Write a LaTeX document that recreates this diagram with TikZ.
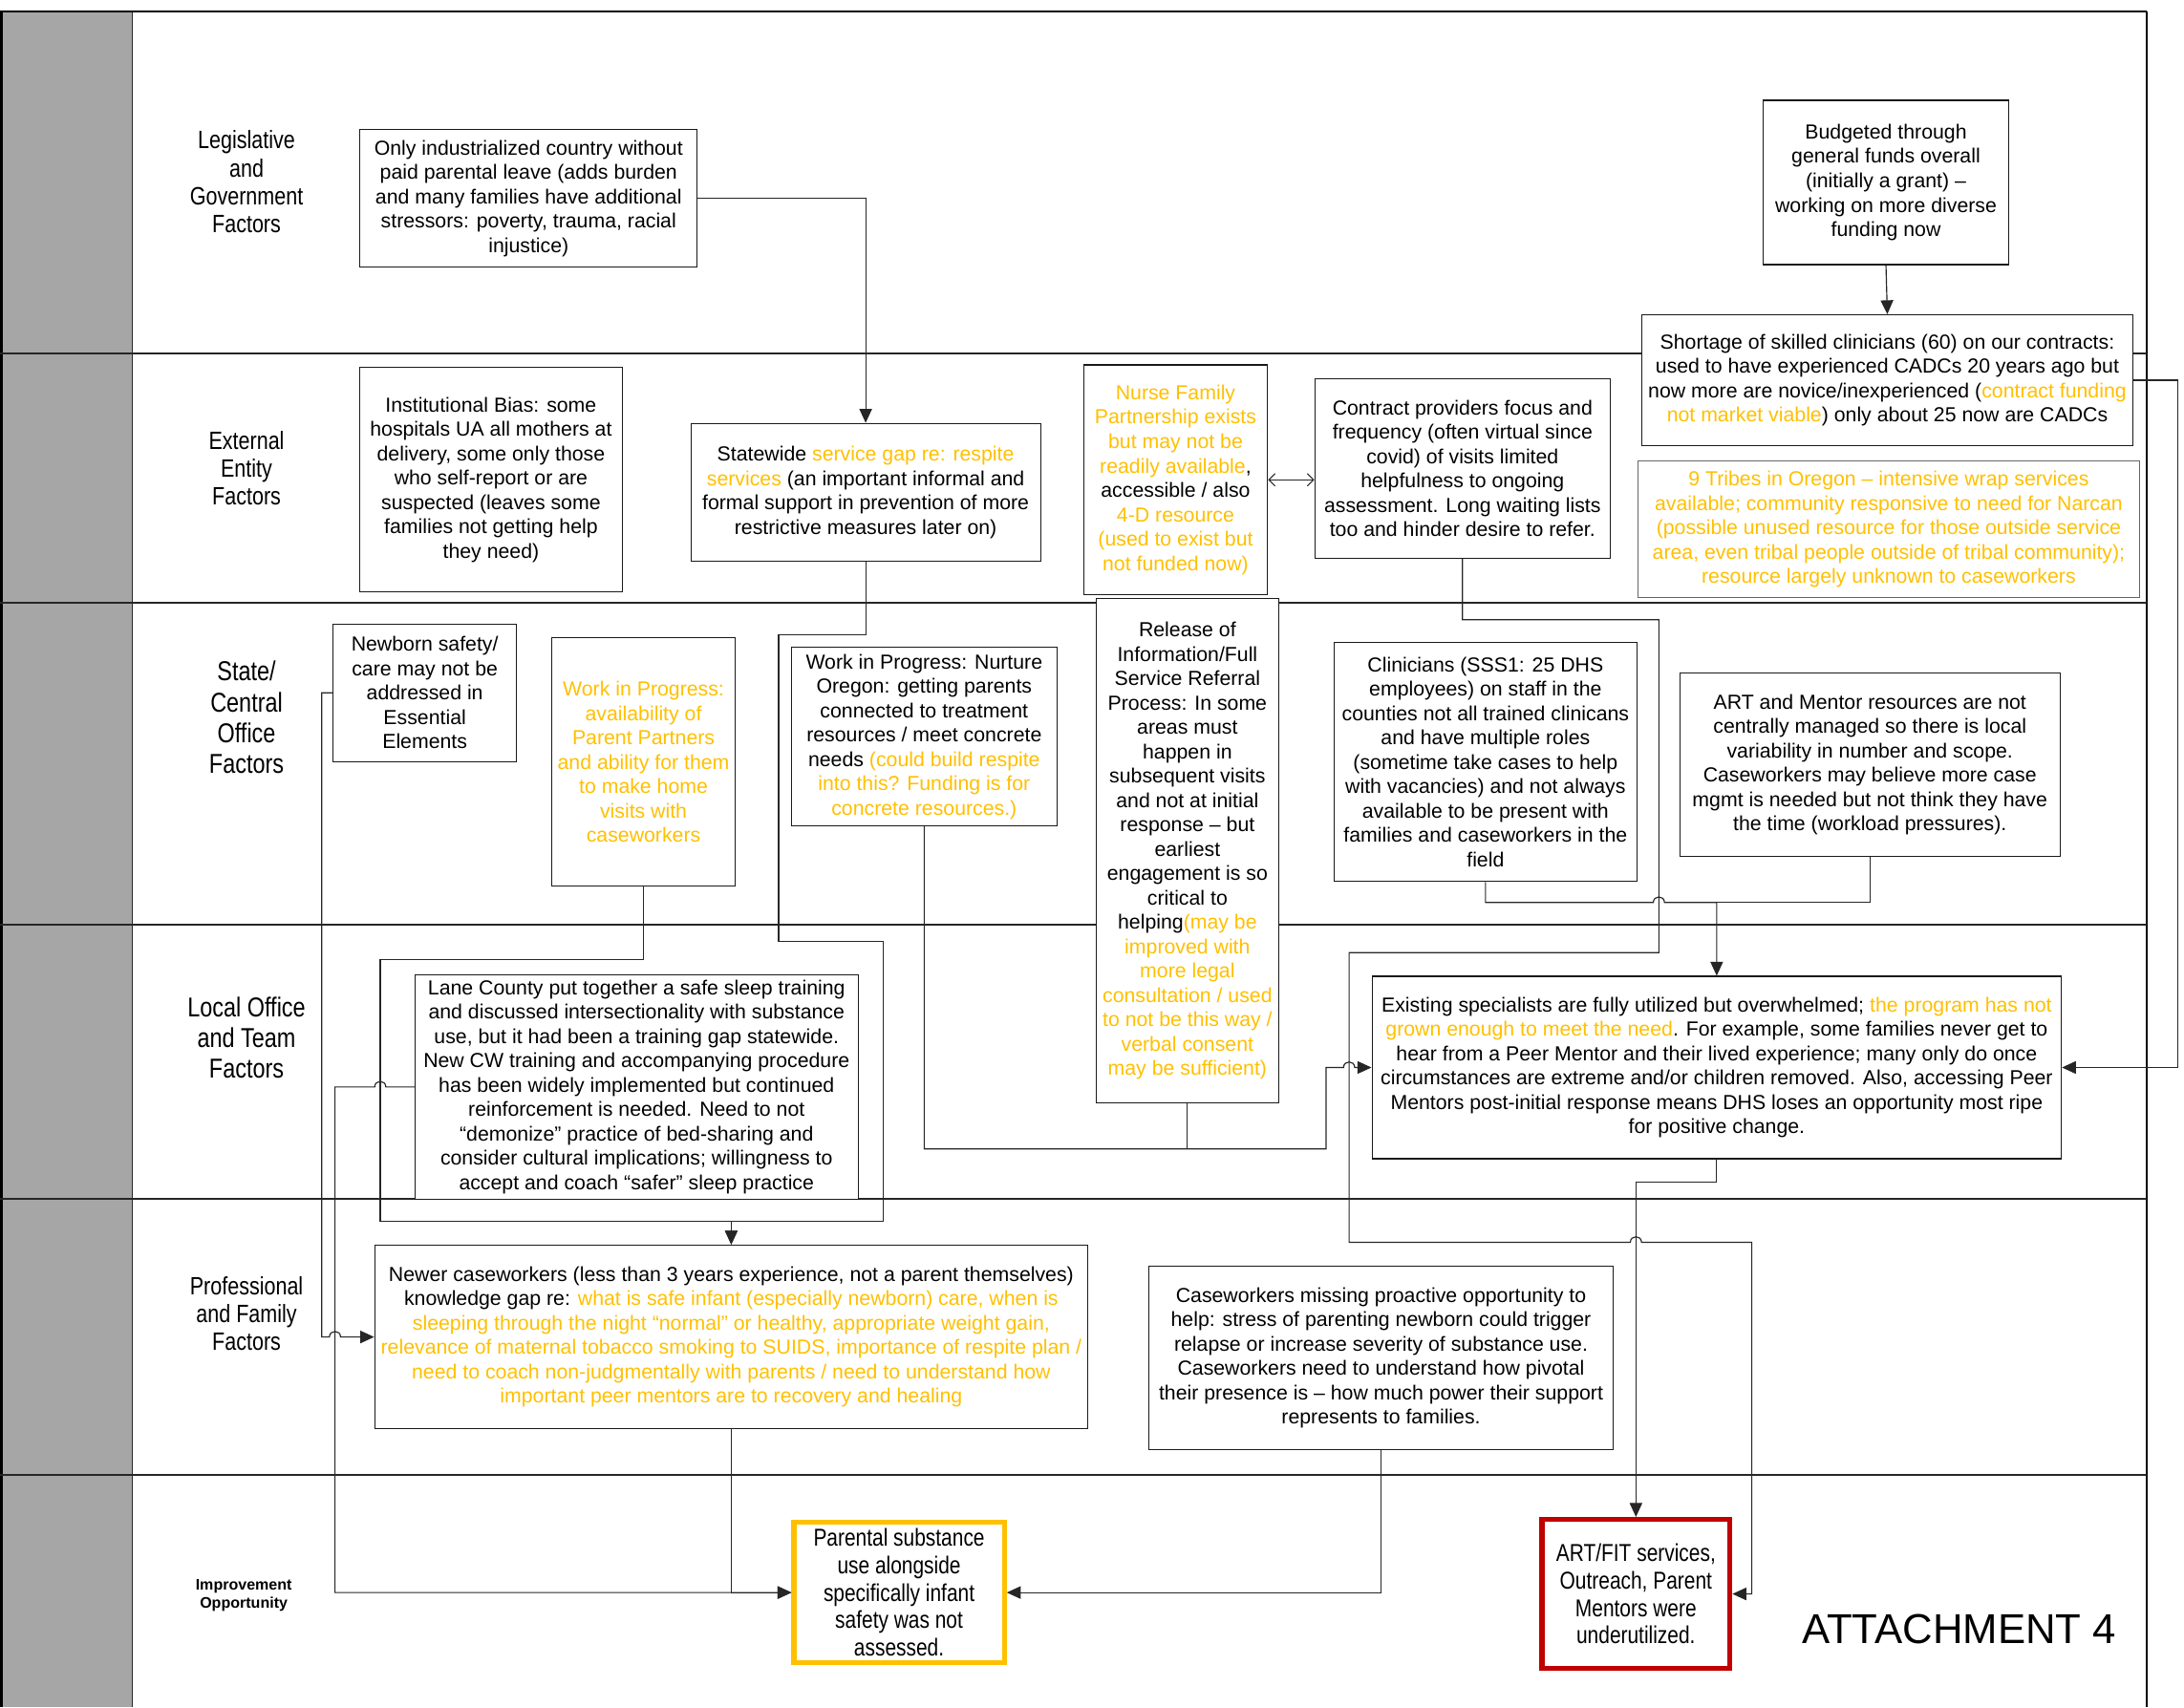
\documentclass[tikz,border=0pt]{standalone}
\usepackage{fontspec}
\setmainfont{Liberation Sans}
\newfontfamily\narrowsf{Liberation Sans}[FakeStretch=0.82]
\usetikzlibrary{arrows.meta}
\definecolor{gold}{HTML}{FFC000}
\definecolor{darkred}{HTML}{C00000}
\definecolor{sidegray}{HTML}{A6A6A6}
\newcommand{\yel}[1]{\textcolor{gold}{#1}}
\tikzset{
  box/.style={draw=black!90, line width=0.75pt, fill=white, inner sep=0pt, align=center,
    font=\fontsize{14.6}{17.5}\selectfont},
  outcome/.style={box, line width=3.6pt, font=\narrowsf\fontsize{17.5}{19.7}\selectfont},
  conn/.style={draw=black!85, line width=0.8pt},
  arr/.style={-{Triangle[length=10pt,width=9pt]}},
  open2/.style={{Straight Barb[length=4.5pt,width=9pt]}-{Straight Barb[length=4.5pt,width=9pt]}},
  laneline/.style={draw=black!85, line width=1.5pt},
  lanelabel/.style={align=center, font=\narrowsf\fontsize{18}{20}\selectfont},
  biglabel/.style={align=center, font=\narrowsf\fontsize{19.6}{22}\selectfont},
}
\begin{document}
\begin{tikzpicture}[x=1pt,y=-1pt]
\useasboundingbox (0,0) rectangle (1568,1226);

% side column and frame
\fill[sidegray] (0,8) rectangle (95,1226);
\draw[black!85, line width=1pt] (95,8) -- (95,1226);
\draw[black, line width=2.5pt] (1,8) -- (1,1226);
\draw[black, line width=1.5pt] (0,8) -- (1541,8);
\draw[black, line width=1.5pt] (1541,8) -- (1541,1226);
\foreach \yy in {254,433,664,861,1059}
  \draw[laneline] (0,\yy) -- (1541,\yy);

% lane titles
\node[lanelabel] (l1) at (177,130.5) {Legislative\\and\\Government\\Factors};
\node[lanelabel] (l2) at (177,336) {External\\Entity\\Factors};
\node[biglabel]  (l3) at (177,515) {State/\\Central\\Office\\Factors};
\node[biglabel]  (l4) at (177,745) {Local Office\\and Team\\Factors};
\node[lanelabel] (l5) at (177,943) {Professional\\and Family\\Factors};
\node[align=center, font=\bfseries\fontsize{11}{13}\selectfont] (l6) at (175,1145.5) {Improvement\\Opportunity};

% named junctions
\coordinate (jw) at (952,825);
\coordinate (je) at (1232.5,648);

% factor boxes
\node[box, minimum width=242, minimum height=99] (b1) at (379.5,142.5)
  {Only industrialized country without\\paid parental leave (adds burden\\and many families have additional\\stressors: poverty, trauma, racial\\injustice)};
\node[box, minimum width=176, minimum height=118] (budget) at (1354,131)
  {Budgeted through\\general funds overall\\(initially a grant) --\\working on more diverse\\funding now};
\node[box, minimum width=352, minimum height=94] (shortage) at (1355,273)
  {Shortage of skilled clinicians (60) on our contracts:\\used to have experienced CADCs 20 years ago but\\now more are novice/inexperienced (\yel{contract funding}\\\yel{not market viable}) only about 25 now are CADCs};
\node[box, draw=black!60, minimum width=360, minimum height=98] (tribes) at (1356,380)
  {\color{gold}9 Tribes in Oregon -- intensive wrap services\\\color{gold}available; community responsive to need for Narcan\\\color{gold}(possible unused resource for those outside service\\\color{gold}area, even tribal people outside of tribal community);\\\color{gold}resource largely unknown to caseworkers};
\node[box, minimum width=212, minimum height=129] (contract) at (1050,336.5)
  {Contract providers focus and\\frequency (often virtual since\\covid) of visits limited\\helpfulness to ongoing\\assessment. Long waiting lists\\too and hinder desire to refer.};
\node[box, minimum width=132, minimum height=165] (nurse) at (844,344.5)
  {\yel{Nurse Family}\\\yel{Partnership exists}\\\yel{but may not be}\\\yel{readily available},\\accessible / also\\\yel{4-D resource}\\\yel{(used to exist but}\\\yel{not funded now)}};
\node[box, minimum width=251, minimum height=99] (state) at (621.5,353.5)
  {Statewide \yel{service gap re: respite}\\\yel{services} (an important informal and\\formal support in prevention of more\\restrictive measures later on)};
\node[box, minimum width=189, minimum height=161] (inst) at (352.5,344.5)
  {Institutional Bias: some\\hospitals UA all mothers at\\delivery, some only those\\who self-report or are\\suspected (leaves some\\families not getting help\\they need)};
\node[box, minimum width=132, minimum height=99] (newborn) at (305,497.5)
  {Newborn safety/\\care may not be\\addressed in\\Essential\\Elements};
\node[box, minimum width=132, minimum height=178] (pp) at (462,547)
  {\yel{Work in Progress:}\\\yel{availability of}\\\yel{Parent Partners}\\\yel{and ability for them}\\\yel{to make home}\\\yel{visits with}\\\yel{caseworkers}};
\node[box, minimum width=191, minimum height=128] (nurture) at (663.5,529)
  {Work in Progress: Nurture\\Oregon: getting parents\\connected to treatment\\resources / meet concrete\\needs \yel{(could build respite}\\\yel{into this? Funding is for}\\\yel{concrete resources.)}};
\node[box, minimum width=131, minimum height=362] (release) at (852.5,611)
  {Release of\\Information/Full\\Service Referral\\Process: In some\\areas must\\happen in\\subsequent visits\\and not at initial\\response -- but\\earliest\\engagement is so\\critical to\\helping\yel{(may be}\\\yel{improved with}\\\yel{more legal}\\\yel{consultation / used}\\\yel{to not be this way /}\\\yel{verbal consent}\\\yel{may be sufficient)}};
\node[box, minimum width=217, minimum height=172] (clin) at (1066.5,547)
  {Clinicians (SSS1: 25 DHS\\employees) on staff in the\\counties not all trained clinicans\\and have multiple roles\\(sometime take cases to help\\with vacancies) and not always\\available to be present with\\families and caseworkers in the\\field};
\node[box, minimum width=273, minimum height=132] (artm) at (1342.5,549)
  {ART and Mentor resources are not\\centrally managed so there is local\\variability in number and scope.\\Caseworkers may believe more case\\mgmt is needed but not think they have\\the time (workload pressures).};
\node[box, minimum width=318, minimum height=161] (lane) at (457,780.5)
  {Lane County put together a safe sleep training\\and discussed intersectionality with substance\\use, but it had been a training gap statewide.\\New CW training and accompanying procedure\\has been widely implemented but continued\\reinforcement is needed. Need to not\\``demonize'' practice of bed-sharing and\\consider cultural implications; willingness to\\accept and coach ``safer'' sleep practice};
\node[box, minimum width=495, minimum height=131] (exist) at (1232.5,766.5)
  {Existing specialists are fully utilized but overwhelmed; \yel{the program has not}\\\yel{grown enough to meet the need}. For example, some families never get to\\hear from a Peer Mentor and their lived experience; many only do once\\circumstances are extreme and/or children removed. Also, accessing Peer\\Mentors post-initial response means DHS loses an opportunity most ripe\\for positive change.};
\node[box, minimum width=512, minimum height=132] (newer) at (525,960)
  {Newer caseworkers (less than 3 years experience, not a parent themselves)\\knowledge gap re: \yel{what is safe infant (especially newborn) care, when is}\\\yel{sleeping through the night ``normal'' or healthy, appropriate weight gain,}\\\yel{relevance of maternal tobacco smoking to SUIDS, importance of respite plan /}\\\yel{need to coach non-judgmentally with parents / need to understand how}\\\yel{important peer mentors are to recovery and healing}};
\node[box, minimum width=333, minimum height=132] (missing) at (991.5,975)
  {Caseworkers missing proactive opportunity to\\help: stress of parenting newborn could trigger\\relapse or increase severity of substance use.\\Caseworkers need to understand how pivotal\\their presence is -- how much power their support\\represents to families.};

% improvement opportunities
\node[outcome, draw=gold, minimum width=151, minimum height=101] (parental) at (645.5,1143.5)
  {Parental substance\\use alongside\\specifically infant\\safety was not\\assessed.};
\node[outcome, draw=darkred, minimum width=135, minimum height=107] (artfit) at (1174.5,1144.5)
  {ART/FIT services,\\Outreach, Parent\\Mentors were\\underutilized.};

\node[font=\fontsize{30}{34}\selectfont] (att) at (1406.5,1170) {ATTACHMENT 4};

% connectors
\draw[conn, arr] (b1.east) -| (state.north);
\draw[conn, arr] (budget.south) -- (shortage.north);
\draw[conn, open2] (nurse.east) -- (nurse.east -| contract.west);
\draw[conn, arr] (state.south) |- (559,456) -- (559,676) -- (634,676) -- (634,877) -| (newer.north);
\draw[conn, arr] (pp.south) |- (273,689) -- (273,877) -| (newer.north);
\draw[conn, arr] (newborn.west) -| (231,960) -- (236.5,960)
  .. controls (236.5,954.7) and (244.5,954.7) .. (244.5,960) -- (newer.west);
\draw[conn, arr] (lane.west) -- (277,780.5)
  .. controls (277,775.2) and (269,775.2) .. (269,780.5) -- (240.5,780.5) |- (parental.west);
\draw[conn, arr] (newer.south) |- (parental.west);
\draw[conn, arr] (missing.south) |- (parental.east);
\draw[conn] (release.south) |- (jw);
\draw[conn, arr] (nurture.south) |- (jw) -- (952,766.5) -- (964.6,766.5)
  .. controls (964.6,761.2) and (972.6,761.2) .. (972.6,766.5) -- (exist.west);
\draw[conn] (artm.south) |- (je);
\draw[conn, arr] (clin.south) |- (1187,648)
  .. controls (1187,642.7) and (1195,642.7) .. (1195,648) -- (je) -- (exist.north);
\draw[conn, arr] (contract.south) |- (1191,445) -- (1191,684) -- (968.6,684) -- (968.6,892) -- (1170.5,892)
  .. controls (1170.5,886.7) and (1178.5,886.7) .. (1178.5,892) -- (1257.7,892) |- (artfit.east);
\draw[conn, arr] (exist.south) |- (1174.5,849) -- (artfit.north);
\draw[conn, arr] (shortage.east) -- (1563.5,273) |- (exist.east);
\end{tikzpicture}
\end{document}
